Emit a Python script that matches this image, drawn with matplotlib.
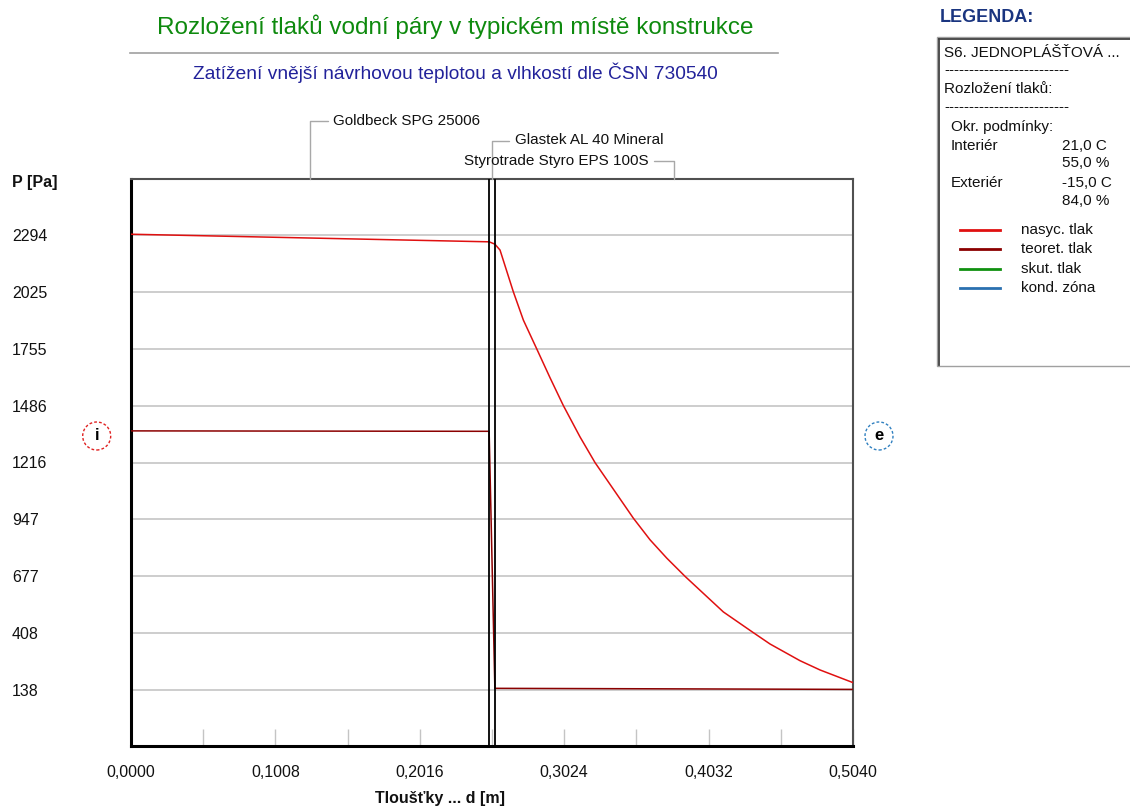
import matplotlib
matplotlib.use("Agg")
import matplotlib.pyplot as plt
import matplotlib.transforms as mtrans
from matplotlib import font_manager
from matplotlib.patches import Circle, Rectangle
from matplotlib.lines import Line2D

# ---------------- data ----------------
layer_names = ["Goldbeck SPG 25006", "Glastek AL 40 Mineral", "Styrotrade Styro EPS 100S"]
layer_thickness = [0.25, 0.004, 0.25]

sat_x = [0.0, 0.25, 0.254, 0.2576, 0.2669, 0.2739, 0.2832, 0.2925, 0.3018, 0.3134,
         0.3239, 0.3507, 0.3623, 0.3740, 0.3867, 0.4135, 0.4344, 0.4461, 0.467, 0.481, 0.504]
sat_p = [2298, 2262, 2251, 2223, 2025, 1891, 1755, 1618, 1486, 1338,
         1216, 952, 850, 763, 677, 508, 410, 356, 277, 233, 173]

theor_x = [0.0, 0.25, 0.254, 0.504]
theor_p = [1366, 1364, 146, 141]

y_tick_values = [138.2, 407.7, 677.2, 946.7, 1216.2, 1485.7, 1755.2, 2024.7, 2294.2]
y_tick_labels = ["138", "408", "677", "947", "1216", "1486", "1755", "2025", "2294"]
x_tick_values = [0.0, 0.1008, 0.2016, 0.3024, 0.4032, 0.5040]
x_tick_labels = ["0,0000", "0,1008", "0,2016", "0,3024", "0,4032", "0,5040"]
x_minor_values = [0.0504, 0.1512, 0.2520, 0.3528, 0.4536]

legend_labels = ["nasyc. tlak", "teoret. tlak", "skut. tlak", "kond. zóna"]
legend_colors = ["#e01010", "#8b0000", "#109010", "#2a70b0"]

# ---------------- fonts ----------------
names = {f.name for f in font_manager.fontManager.ttflist}
NARROW = "Liberation Sans Narrow" if "Liberation Sans Narrow" in names else "Liberation Sans"
plt.rcParams["font.family"] = [NARROW, "DejaVu Sans"]

W, H = 1130, 807
fig = plt.figure(figsize=(W / 100, H / 100), dpi=100)
fig.patch.set_facecolor("white")


def fx(x):
    return x / W


def fy(y):
    return 1 - y / H


TICK_FS = 11.5
ax = fig.add_axes([fx(131), fy(746), 722 / W, 567 / H])
ax.set_xlim(0, 0.504)
ax.set_ylim(-127.3, 2559.7)

for v in y_tick_values:
    ax.axhline(v, color="#cdcdcd", lw=1.4, zorder=0)

# saturated & theoretical pressure
ax.plot(sat_x, sat_p, color=legend_colors[0], lw=1.1, zorder=3)
ax.plot(theor_x, theor_p, color=legend_colors[1], lw=1.1, zorder=3)

# layer boundaries
bounds = []
acc = 0.0
for t in layer_thickness[:-1]:
    acc += t
    bounds.append(acc)
for b in bounds:
    ax.axvline(b, color="black", lw=1.3, zorder=4)

# ticks
ax.set_yticks(y_tick_values)
ax.set_yticklabels(y_tick_labels, fontsize=TICK_FS, color="#111111")
for lbl in ax.get_yticklabels():
    lbl.set_horizontalalignment("left")
ax.tick_params(axis="y", length=0, pad=(131 - 12) * 0.72)
ax.set_xticks(x_tick_values)
ax.set_xticklabels(x_tick_labels, fontsize=TICK_FS, color="#111111")
ax.set_xticks(x_minor_values, minor=True)
ax.tick_params(axis="x", which="both", direction="in", length=17 * 0.72,
               color="#c4c4c4", width=1.0, pad=14)

for s in ("left", "bottom"):
    ax.spines[s].set_color("black")
    ax.spines[s].set_linewidth(2.2)
for s in ("top", "right"):
    ax.spines[s].set_color("#505050")
    ax.spines[s].set_linewidth(1.5)

# layer annotations
mids = []
start = 0.0
for t in layer_thickness:
    mids.append(start + t / 2)
    start += t
ann_specs = [(23, 58, "left", (0, 0.5)), (23, 38.5, "left", (0, 0.5)), (-25, 18.5, "right", (1, 0.5))]
for name, m, (dx, dy, ha, rp) in zip(layer_names, mids, ann_specs):
    ax.annotate(name, xy=(m, 1.0), xycoords=("data", "axes fraction"),
                xytext=(dx * 0.72, dy * 0.72), textcoords="offset points",
                ha=ha, va="center", fontsize=11, color="#111111",
                arrowprops=dict(arrowstyle="-", color="#a8a8a8", lw=1.0,
                                connectionstyle="angle,angleA=0,angleB=90,rad=0",
                                relpos=rp, shrinkA=2, shrinkB=0))

# axis titles
fig.text(fx(12), fy(182), "P [Pa]", fontsize=TICK_FS, fontweight="bold",
         ha="left", va="center", color="#111111")
fig.text(fx(440), fy(799), "Tloušťky ... d [m]", fontsize=TICK_FS, fontweight="bold",
         ha="center", va="center", color="#111111")

# interior / exterior markers
ident = mtrans.IdentityTransform()
for cx, cy, txt, col in [(96.7, 436, "i", "#e02020"), (879, 436, "e", "#3080c0")]:
    fig.add_artist(Circle((cx, H - cy), 14, transform=ident, fill=False,
                          ec=col, lw=1.0, ls=(0, (2, 1.5))))
    fig.text(fx(cx), fy(cy), txt, fontsize=12, fontweight="bold",
             ha="center", va="center", color="black")

# titles
fig.text(fx(455), fy(27), "Rozložení tlaků vodní páry v typickém místě konstrukce",
         fontsize=17.5, color="#0e8a0e", ha="center", va="center")
fig.add_artist(Line2D([fx(130), fx(778)], [fy(53), fy(53)], color="#a0a0a0", lw=1.2))
fig.text(fx(455), fy(73), "Zatížení vnější návrhovou teplotou a vlhkostí dle ČSN 730540",
         fontsize=13.8, color="#22229a", ha="center", va="center")

# legend panel
fig.text(fx(940), fy(17), "LEGENDA:", fontsize=13, fontweight="bold",
         color="#1a3580", ha="left", va="center")
fig.add_artist(Rectangle((fx(937), fy(366)), fx(200), (366 - 37) / H,
                         fc="white", ec="#a0a0a0", lw=1.0))
fig.add_artist(Line2D([fx(939), fx(939)], [fy(39), fy(365)], color="#404040", lw=1.3))
fig.add_artist(Line2D([fx(939), fx(1130)], [fy(39), fy(39)], color="#404040", lw=1.3))

LFS = 11
dash = "-" * 25
rows = [
    (944, 53, "S6. JEDNOPLÁŠŤOVÁ ..."),
    (944, 70, dash),
    (944, 89, "Rozložení tlaků:"),
    (944, 107, dash),
    (951, 127, "Okr. podmínky:"),
    (951, 146, "Interiér"),
    (1062, 146, "21,0 C"),
    (1062, 163, "55,0 %"),
    (951, 183, "Exteriér"),
    (1062, 183, "-15,0 C"),
    (1062, 201, "84,0 %"),
]
for x, y, t in rows:
    fig.text(fx(x), fy(y), t, fontsize=LFS, ha="left", va="center", color="#111111")

for i, (lab, col) in enumerate(zip(legend_labels, legend_colors)):
    y = 230 + i * 19.3
    fig.add_artist(Line2D([fx(960), fx(1000)], [fy(y), fy(y)], color=col, lw=2.0))
    fig.text(fx(1021), fy(y), lab, fontsize=LFS, ha="left", va="center", color="#111111")

fig.savefig("out.png", dpi=100, facecolor="white")
